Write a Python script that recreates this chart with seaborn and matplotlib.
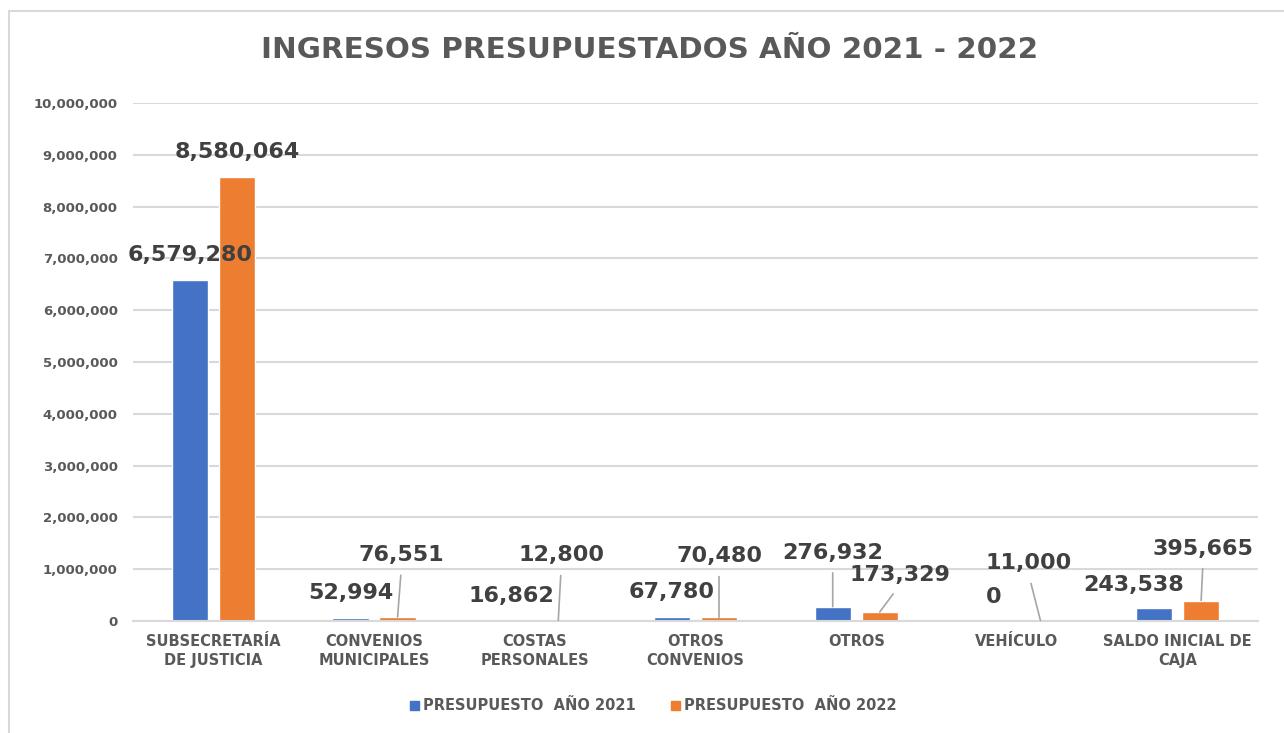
import numpy as np
import pandas as pd
import matplotlib
matplotlib.use("Agg")
import matplotlib.pyplot as plt
import seaborn as sns
from matplotlib.patches import Rectangle

# data
categories = ["SUBSECRETARÍA\nDE JUSTICIA", "CONVENIOS\nMUNICIPALES", "COSTAS\nPERSONALES",
              "OTROS\nCONVENIOS", "OTROS", "VEHÍCULO", "SALDO INICIAL DE\nCAJA"]
series_names = ["PRESUPUESTO  AÑO 2021", "PRESUPUESTO  AÑO 2022"]
values_2021 = [6579280, 52994, 16862, 67780, 276932, 0, 243538]
values_2022 = [8580064, 76551, 12800, 70480, 173329, 11000, 395665]
y_ticks = [0, 1000000, 2000000, 3000000, 4000000, 5000000, 6000000, 7000000, 8000000, 9000000, 10000000]

df = pd.DataFrame({
    "cat": categories * 2,
    "serie": [series_names[0]] * len(categories) + [series_names[1]] * len(categories),
    "valor": values_2021 + values_2022,
})

# label placement (pixel offsets from bar top, leader line yes/no)
offs_2021 = [(0, 25), (0, 25), (0, 24), (0, 25), (0, 54), (0, 24), (-21, 23)]
lines_2021 = [False, False, False, False, True, False, False]
offs_2022 = [(0, 25), (4, 62), (3, 65), (0, 61), (20, 37), (-12, 57), (2, 52)]
lines_2022 = [False, True, True, True, True, True, True]

sns.set_style("white")
plt.rcParams["font.family"] = ["DejaVu Sans"]

fig = plt.figure(figsize=(12.84, 7.33), dpi=100)
ax = fig.add_axes([133/1284, 1-621/733, (1258-133)/1284, (621-103)/733])

sns.barplot(data=df, x="cat", y="valor", hue="serie", palette=["#4472C4", "#ED7D31"],
            width=0.585, gap=0.23, ax=ax, legend=False, saturation=1)

ax.set_ylim(0, 10000000)
ax.set_xlim(-0.5, len(categories) - 0.5)
ax.set_yticks(y_ticks)
ax.set_yticklabels([f"{v:,}" for v in y_ticks])
ax.yaxis.grid(True, color="#d9d9d9", linewidth=1.5)
ax.set_axisbelow(True)
for s in ["top", "right", "left"]:
    ax.spines[s].set_visible(False)
ax.spines["bottom"].set_color("#d9d9d9")
ax.spines["bottom"].set_linewidth(1.5)
ax.tick_params(axis="y", length=0, pad=11, labelsize=9.5, labelcolor="#595959")
ax.tick_params(axis="x", length=0, pad=9, labelsize=10.5, labelcolor="#595959")
for t in ax.get_yticklabels():
    t.set_fontweight("bold")
for t in ax.get_xticklabels():
    t.set_fontweight("bold")
    t.set_linespacing(1.35)
ax.set_xlabel("")
ax.set_ylabel("")

# data labels
for cont, vals, offs, lines in [(ax.containers[0], values_2021, offs_2021, lines_2021),
                                (ax.containers[1], values_2022, offs_2022, lines_2022)]:
    for bar, v, (dx, dy), ln in zip(cont.patches, vals, offs, lines):
        xc = bar.get_x() + bar.get_width() / 2
        yt = bar.get_height()
        kw = {}
        if ln:
            kw["arrowprops"] = dict(arrowstyle="-", color="#a6a6a6", lw=1.2,
                                    relpos=(0.5, 0), shrinkA=5, shrinkB=0)
        ax.annotate(f"{v:,}", xy=(xc, yt), xytext=(dx * 0.72, dy * 0.72),
                    textcoords="offset points", ha="center", va="center",
                    fontsize=16, fontweight="bold", color="#404040", **kw)

# title
fig.text(0.506, 0.932, "INGRESOS PRESUPUESTADOS AÑO 2021 - 2022", ha="center", va="center",
         fontsize=21.2, fontweight="bold", color="#595959")

# legend
handles = [Rectangle((0, 0), 1, 1, color=c) for c in ["#4472C4", "#ED7D31"]]
fig.legend(handles, series_names, loc="center", bbox_to_anchor=(0.509, 0.037), ncol=2,
           frameon=False, handlelength=0.6, handleheight=0.6, handletextpad=0.3,
           columnspacing=2.4, prop={"weight": "bold", "size": 10.5}, labelcolor="#595959")

# chart frame
fig.patches.append(Rectangle((9/1284, -0.1), 1.2, 1 - 11/733 + 0.1, transform=fig.transFigure,
                             fill=False, edgecolor="#d9d9d9", linewidth=1.5))

fig.savefig("out.png", dpi=100, facecolor="white")
